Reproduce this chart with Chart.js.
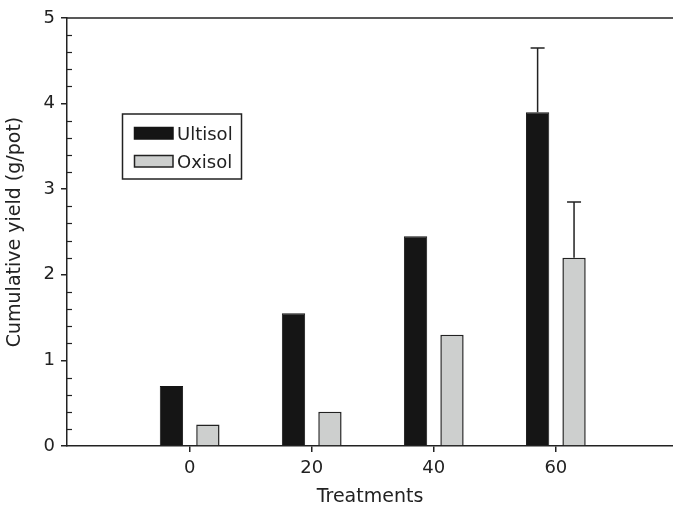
<!DOCTYPE html>
<html>
<head>
<meta charset="utf-8">
<script src="https://cdn.jsdelivr.net/npm/chart.js@4.4.1/dist/chart.umd.min.js"></script>
<style>
  html, body { margin: 0; padding: 0; background: #ffffff; }
  #wrap { width: 673px; height: 505px; position: relative; }
</style>
</head>
<body>
<div id="wrap"><canvas id="c" width="673" height="505"></canvas></div>
<script>
// ---- data ----
const treatments = [0, 20, 40, 60];
const ultisol = [0.70, 1.55, 2.45, 3.90];
const oxisol = [0.25, 0.40, 1.30, 2.20];
const ultisolErr = [0, 0, 0, 0.75];
const oxisolErr = [0, 0, 0, 0.65];
const seriesNames = ['Ultisol', 'Oxisol'];
const xTickValues = [0, 20, 40, 60];
const yTickValues = [0, 1, 2, 3, 4, 5];
const xTitle = 'Treatments';
const yTitle = 'Cumulative yield (g/pot)';

const INK = '#222222';
const FONT = "'DejaVu Sans', sans-serif";

const errorBars = {
  id: 'errorBars',
  afterDatasetsDraw(chart) {
    const ctx = chart.ctx;
    const yScale = chart.scales.y;
    const errs = [ultisolErr, oxisolErr];
    ctx.save();
    ctx.strokeStyle = INK;
    ctx.lineWidth = 1.5;
    chart.data.datasets.forEach((ds, di) => {
      const meta = chart.getDatasetMeta(di);
      meta.data.forEach((el, i) => {
        const e = errs[di][i];
        if (!e) return;
        const v = ds.data[i].y;
        const yTop = yScale.getPixelForValue(v + e);
        ctx.beginPath();
        ctx.moveTo(el.x, el.y);
        ctx.lineTo(el.x, yTop);
        ctx.moveTo(el.x - 7, yTop);
        ctx.lineTo(el.x + 7, yTop);
        ctx.stroke();
      });
    });
    ctx.restore();
  }
};

const frame = {
  id: 'frame',
  afterDraw(chart) {
    const ctx = chart.ctx;
    const a = chart.chartArea;
    const yScale = chart.scales.y;
    ctx.save();
    ctx.strokeStyle = INK;
    ctx.lineWidth = 1.5;
    ctx.beginPath();
    ctx.moveTo(a.left, a.top);
    ctx.lineTo(a.right, a.top);
    ctx.stroke();
    ctx.lineWidth = 1.2;
    for (let k = 0; k < yTickValues.length - 1; k++) {
      for (let m = 1; m < 5; m++) {
        const v = yTickValues[k] + m * (yTickValues[k + 1] - yTickValues[k]) / 5;
        const py = Math.round(yScale.getPixelForValue(v)) + 0.5;
        ctx.beginPath();
        ctx.moveTo(a.left, py);
        ctx.lineTo(a.left + 5, py);
        ctx.stroke();
      }
    }
    ctx.restore();
  }
};

const legendBox = {
  id: 'legendBox',
  afterDraw(chart) {
    const ctx = chart.ctx;
    ctx.save();
    ctx.strokeStyle = INK;
    ctx.lineWidth = 1.5;
    ctx.strokeRect(122.5, 114, 119, 65);
    const rows = [127, 155];
    chart.data.datasets.forEach((ds, i) => {
      const y = rows[i];
      ctx.fillStyle = ds.backgroundColor;
      ctx.fillRect(134, y, 39, 12);
      ctx.lineWidth = 1.5;
      ctx.strokeStyle = ds.borderColor;
      ctx.strokeRect(134.5, y + 0.5, 38.5, 11.5);
      ctx.fillStyle = INK;
      ctx.font = "18px " + FONT;
      ctx.textBaseline = 'alphabetic';
      ctx.textAlign = 'left';
      ctx.fillText(ds.label, 177, y + 12.5);
    });
    ctx.restore();
  }
};

new Chart(document.getElementById('c'), {
  type: 'bar',
  data: {
    datasets: [
      {
        label: seriesNames[0],
        data: treatments.map((t, i) => ({ x: t, y: ultisol[i] })),
        backgroundColor: '#151515',
        borderColor: '#151515',
        borderWidth: 1,
        categoryPercentage: 0.597,
        barPercentage: 0.64
      },
      {
        label: seriesNames[1],
        data: treatments.map((t, i) => ({ x: t, y: oxisol[i] })),
        backgroundColor: '#cdcfce',
        borderColor: '#222222',
        borderWidth: 1.5,
        categoryPercentage: 0.597,
        barPercentage: 0.64
      }
    ]
  },
  options: {
    responsive: false,
    animation: false,
    devicePixelRatio: 1,
    layout: { padding: { top: 18, right: 0, left: 0, bottom: 0 } },
    plugins: { legend: { display: false }, tooltip: { enabled: false } },
    scales: {
      x: {
        type: 'linear',
        min: -20.1,
        max: 79.2,
        offset: false,
        afterBuildTicks(scale) { scale.ticks = xTickValues.map(v => ({ value: v })); },
        afterFit(scale) { scale.height = 59; },
        grid: { display: true, offset: false, drawOnChartArea: false, drawTicks: true, tickLength: 6, color: INK, lineWidth: 1.5 },
        border: { display: true, color: INK, width: 1.5 },
        ticks: { color: INK, font: { family: FONT, size: 18 }, padding: 6, maxRotation: 0, autoSkip: false },
        title: { display: true, text: xTitle, color: INK, font: { family: FONT, size: 19, lineHeight: 1 }, padding: { top: 0, bottom: -2 } }
      },
      y: {
        min: 0,
        max: 5,
        afterBuildTicks(scale) { scale.ticks = yTickValues.map(v => ({ value: v })); },
        afterFit(scale) { scale.width = 67; },
        grid: { display: true, offset: false, drawOnChartArea: false, drawTicks: true, tickLength: 6, color: INK, lineWidth: 1.5 },
        border: { display: true, color: INK, width: 1.5 },
        ticks: { color: INK, font: { family: FONT, size: 18 }, padding: 6 },
        title: { display: true, text: yTitle, color: INK, font: { family: FONT, size: 19, lineHeight: 1 }, padding: { top: 6, bottom: 0 } }
      }
    }
  },
  plugins: [errorBars, frame, legendBox]
});
</script>
</body>
</html>
